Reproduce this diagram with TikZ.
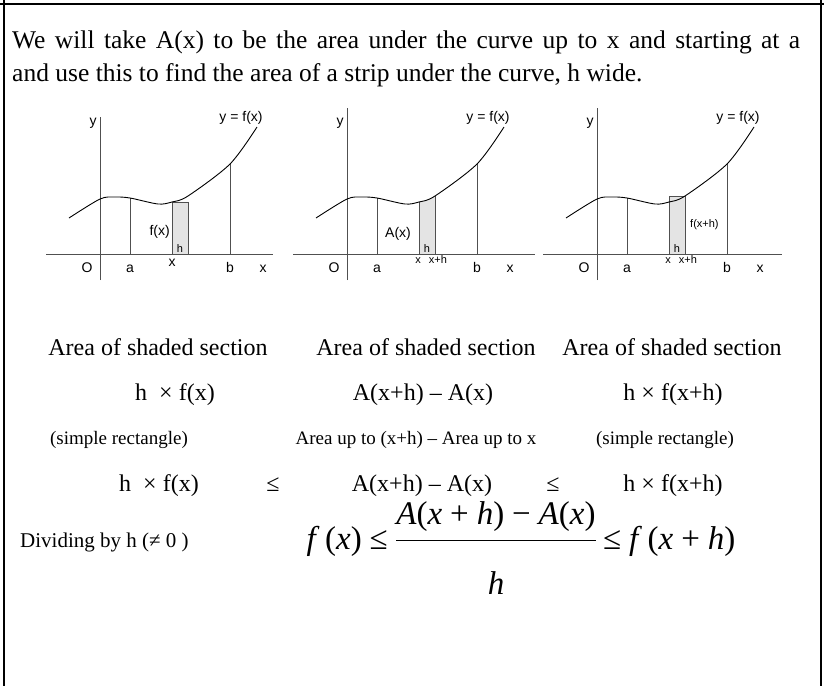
\documentclass[tikz,border=0pt]{standalone}
\usepackage{fontspec}
\setmainfont{Liberation Serif}
\setsansfont{Liberation Sans}
\usetikzlibrary{positioning}
\definecolor{tinta}{HTML}{000000}
\definecolor{grisEje}{HTML}{505050}
\definecolor{relleno}{HTML}{E4E4E4}
\newcommand{\curvaf}{plot[smooth] coordinates {(-31,36) (0,55) (15,57) (30,56)
  (58,50) (72,52) (88,58) (130,90) (157,127)}}
\newcommand{\esp}{\hspace{0.24em}}

\begin{document}
\begin{tikzpicture}[x=1pt,y=-1pt,
    eje/.style={draw=grisEje,line width=0.8pt},
    curva/.style={draw=tinta,line width=0.9pt},
    franja/.style={fill=relleno,draw=grisEje,line width=0.8pt},
    etiq/.style={inner sep=0pt,anchor=base,font=\fontsize{14}{16}\selectfont\sffamily},
    chica/.style={inner sep=0pt,anchor=base,font=\fontsize{11}{13}\selectfont\sffamily},
    texto/.style={inner sep=0pt,anchor=base,font=\fontsize{24}{33}\selectfont},
    nota/.style={inner sep=0pt,anchor=base,font=\fontsize{19}{24}\selectfont},
    formula/.style={inner sep=0pt,font=\fontsize{33}{38}\selectfont}]
  \useasboundingbox (0,0) rectangle (824,686);
  % marco
  \draw[line width=2pt] (0,4) -- (824,4);
  \draw[line width=2pt] (4,0) -- (4,686);
  \draw[line width=2pt] (821,0) -- (821,686);

  \node[texto,anchor=base west,text width=788pt,align=justify,
        font=\fontsize{25.5}{33}\selectfont] (parrafo) at (12,48)
    {We will take A(x) to be the area under the curve up to x and starting at a\linebreak
     and use this to find the area of a strip under the curve, h wide.};

  % franjas sombreadas
  \begin{scope}[shift={(100,254)},yscale=-1]
    \filldraw[franja] (72,0) rectangle (88,52);
    \node[etiq,anchor=base east] (fx1) at (70,19) {f(x)};
    \node[chica] (h1) at (80,2) {h};
    \node[etiq] (x1) at (72,-12) {x};
  \end{scope}
  \begin{scope}[shift={(347,254)},yscale=-1]
    \begin{scope}
      \clip (72,0) rectangle (88,80);
      \fill[relleno] \curvaf -- (157,0) -- (-31,0) -- cycle;
    \end{scope}
    \coordinate (izq2) at (72,52);
    \coordinate (der2) at (88,58);
    \draw[eje] (72,0) -- (izq2);
    \draw[eje] (88,0) -- (der2);
    \node[etiq] (ax2) at (51,17) {A(x)};
    \node[chica] (h2) at (80,2) {h};
    \node[chica] (x2) at (71,-9) {x};
    \node[chica] (xh2) at (91,-9) {x+h};
  \end{scope}
  \begin{scope}[shift={(597,254)},yscale=-1]
    \filldraw[franja] (72,0) rectangle (88,58);
    \node[chica,anchor=base west] (fxh3) at (93,27) {f(x+h)};
    \node[chica] (h3) at (80,2) {h};
    \node[chica] (x3) at (71,-9) {x};
    \node[chica] (xh3) at (91,-9) {x+h};
  \end{scope}

  % ejes y curvas
  \foreach \n/\dx/\fin/\tope in {1/100/173/137,2/347/188/146,3/597/185/146}{
    \begin{scope}[shift={(\dx,254)},yscale=-1]
      \draw[eje] (-54,0) -- (\fin,0);
      \draw[eje] (0,-26) -- (0,\tope);
      \coordinate (pa\n) at (30,56);
      \coordinate (pb\n) at (130,90);
      \draw[eje] (30,0) -- (pa\n);
      \draw[eje] (130,0) -- (pb\n);
      \draw[curva] \curvaf;
      \node[etiq] (y\n) at (-7,129) {y};
      \node[etiq] (fun\n) at (141,133) {y = f(x)};
      \node[etiq] (o\n) at (-13,-18) {O};
      \node[etiq] (a\n) at (30,-18) {a};
      \node[etiq] (b\n) at (130,-18) {b};
      \node[etiq] (xe\n) at (163,-18) {x};
    \end{scope}
  }

  % comparacion de areas
  \node[texto] (area1) at (158,355) {Area of shaded section};
  \node[texto] (area2) at (426,355) {Area of shaded section};
  \node[texto] (area3) at (672,355) {Area of shaded section};
  \node[texto] (prod1) at (175,400) {h\ \ × f(x)};
  \node[texto] (dif) at (423,400) {A(x+h) – A(x)};
  \node[texto] (prod2) at (673,400) {h × f(x+h)};
  \node[nota] (rect1) at (119,444) {(simple rectangle)};
  \node[nota] (resta) at (416,444) {Area up to (x+h) – Area up to x};
  \node[nota] (rect2) at (665,444) {(simple rectangle)};
  \node[texto] (izq) at (159,491) {h\ \ × f(x)};
  \node[texto] (le1) at (273,491) {≤};
  \node[texto] (centro) at (422,491) {A(x+h) – A(x)};
  \node[texto] (le2) at (553,491) {≤};
  \node[texto] (der) at (673,491) {h × f(x+h)};

  \node[nota,anchor=base west,font=\fontsize{21}{24}\selectfont] (divid) at (20,547)
    {Dividing by h (≠ 0 )};
  \node[formula,anchor=base east] (fx) at (388,549) {\textit{f}\,(\textit{x})\esp≤};
  \node[formula,anchor=base] (num) at (496,524)
    {\textit{A}(\textit{x}\esp+\esp\textit{h})\esp−\esp\textit{A}(\textit{x})};
  \node[formula,anchor=base] (den) at (496,594) {\textit{h}};
  \draw[line width=1.2pt] ([yshift=-9pt]num.south west) -- ([yshift=-9pt]num.south east);
  \node[formula,anchor=base west] (fxh) at (603,549)
    {≤\esp\textit{f}\,(\textit{x}\esp+\esp\textit{h})};
\end{tikzpicture}
\end{document}
